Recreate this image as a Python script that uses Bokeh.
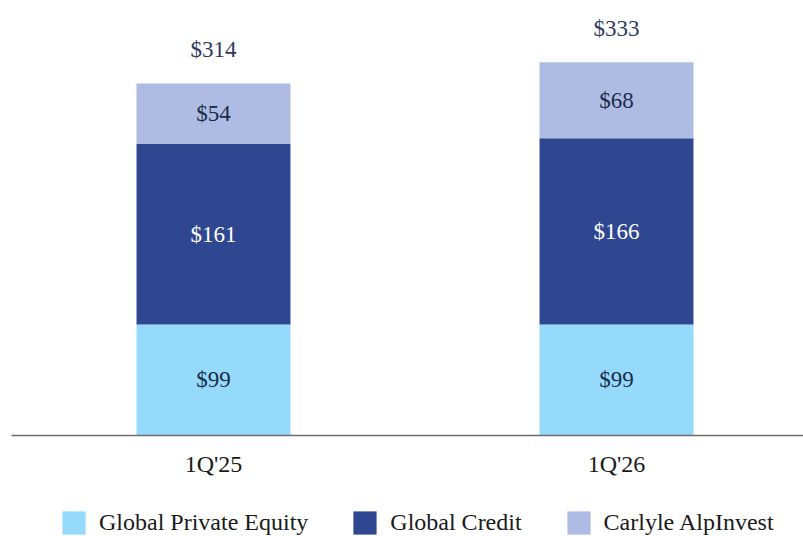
from bokeh.plotting import figure
from bokeh.models import Range1d, Legend, LegendItem, FixedTicker, ColumnDataSource
from bokeh.core.properties import value
from bokeh.embed import file_html
from bokeh.resources import INLINE

categories = ["1Q'25", "1Q'26"]
private_equity = [99, 99]
global_credit = [161, 166]
alpinvest = [54, 68]
series_names = ["Global Private Equity", "Global Credit", "Carlyle AlpInvest"]
colors = ["#96DAFB", "#2F4790", "#AEBCE3"]

FONT = "Liberation Serif"
xpos = [1, 2]
totals = [a + b + c for a, b, c in zip(private_equity, global_credit, alpinvest)]

src = ColumnDataSource(dict(x=xpos, pe=private_equity, gc=global_credit, ai=alpinvest))

p = figure(width=803, height=536, output_backend="svg", toolbar_location=None,
           x_range=Range1d(0.4715, 2.464), y_range=Range1d(-90.2, 388),
           min_border=0, min_border_left=0, min_border_right=0,
           min_border_top=0, min_border_bottom=0)
p.outline_line_color = None
p.grid.visible = False
p.yaxis.visible = False
p.background_fill_color = "white"
p.border_fill_color = "white"

renderers = p.vbar_stack(["pe", "gc", "ai"], x="x", width=0.382, source=src,
                         color=colors, line_color=None)

# axis
xa = p.xaxis[0]
xa.fixed_location = 0
xa.bounds = (0.4988, 2.464)
xa.ticker = FixedTicker(ticks=xpos)
xa.major_label_overrides = {x: c for x, c in zip(xpos, categories)}
xa.major_tick_line_color = None
xa.minor_tick_line_color = None
xa.axis_line_color = "#6E6E6E"
xa.axis_line_width = 1.5
xa.major_label_text_font = FONT
xa.major_label_text_font_size = "24px"
xa.major_label_text_color = "#1A1A1A"
xa.major_label_standoff = 10

# segment labels
seg_x, seg_y, seg_t, seg_c = [], [], [], []
for i in range(len(xpos)):
    base = 0
    for vals, col in ((private_equity, "#1C2B4A"), (global_credit, "#FFFFFF"), (alpinvest, "#1C2B4A")):
        seg_x.append(xpos[i])
        seg_y.append(base + vals[i] / 2)
        seg_t.append(f"${vals[i]}")
        seg_c.append(col)
        base += vals[i]
p.text(x=seg_x, y=seg_y, text=seg_t, text_color=seg_c, text_font=value(FONT),
       text_font_size="23px", text_align="center", text_baseline="middle")

p.text(x=xpos, y=totals, text=[f"${t}" for t in totals], text_color="#2E3B5C",
       text_font=value(FONT), text_font_size="23px", text_align="center",
       text_baseline="middle", y_offset=-34)

legend = Legend(items=[LegendItem(label=n, renderers=[r]) for n, r in zip(series_names, renderers)],
                orientation="horizontal", location=(59, -1), padding=0, margin=0,
                border_line_color=None, background_fill_alpha=0,
                glyph_width=29, glyph_height=29, label_standoff=11, spacing=42,
                label_text_font=FONT, label_text_font_size="24px", label_text_color="#1A1A1A",
                label_height=29)
p.add_layout(legend)

open("out.html", "w").write(file_html(p, INLINE))
